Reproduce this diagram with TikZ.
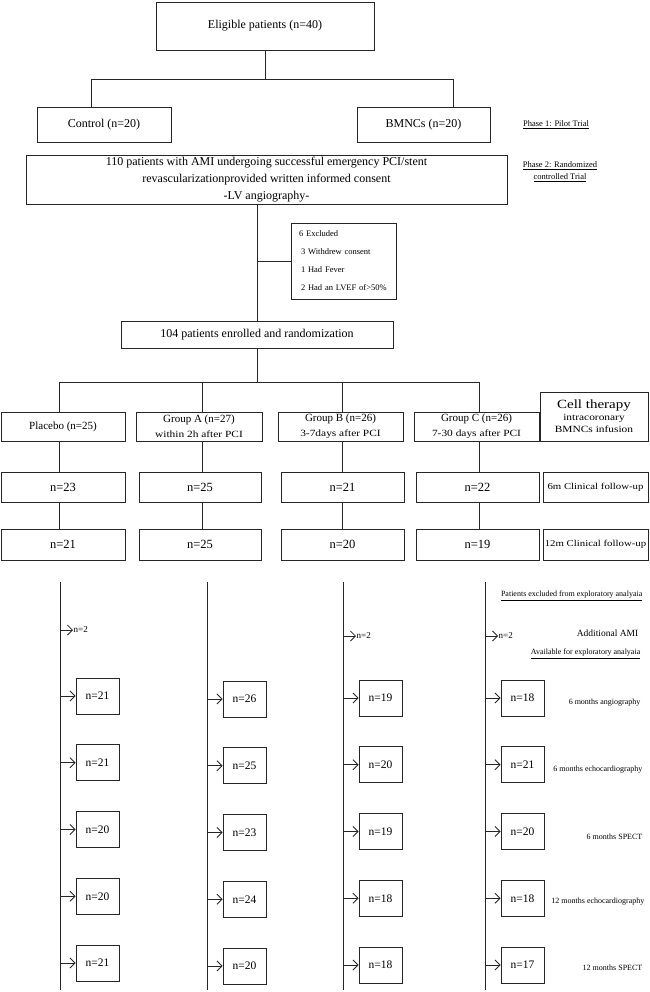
\documentclass[tikz,border=0pt]{standalone}
\usepackage{fontspec}
\setmainfont{Liberation Serif}
\newfontfamily\widefont[FakeStretch=1.2]{Liberation Serif}
\usetikzlibrary{arrows.meta}
\colorlet{linegray}{black!85}
\tikzstyle{box}=[draw=linegray,line width=0.9pt,inner sep=1pt,align=center]
\tikzstyle{nbox}=[box,minimum width=43,minimum height=36,font=\fontsize{11.5}{13}\selectfont]
\tikzstyle{lbl}=[inner sep=0.5pt,align=center,font=\fontsize{8}{10}\selectfont]
\tikzstyle{conn}=[draw=linegray,line width=0.85pt]
\tikzstyle{myarr}=[conn,-{Straight Barb[length=5,width=10]}]
\newcommand\bigtxt{\fontsize{12}{14}\selectfont}
\newcommand\widetxt{\widefont\fontsize{9.5}{12}\selectfont}

\begin{document}
\begin{tikzpicture}[x=1pt,y=-1pt]
	\useasboundingbox (0,0) rectangle (649,992);
	
	% PHASE 1
	\node[box,minimum width=218,minimum height=48,font=\bigtxt] (elig) at (265,26) {Eligible patients (n=40)};
	\node[box,minimum width=134,minimum height=35,font=\bigtxt] (ctrl) at (104,124.5) {Control (n=20)};
	\node[box,minimum width=133,minimum height=35,font=\bigtxt] (bmnc) at (423.5,124.5) {BMNCs (n=20)};
	\node[lbl,font=\fontsize{8.5}{10}\selectfont] (ph1) at (556,125) {\underline{Phase 1: Pilot Trial}};
	\coordinate (jL) at (91,79);
	\coordinate (jR) at (453,79);
	\draw[conn] (elig.south) -- (elig.south |- jL);
	\draw[conn] (jL |- ctrl.north) -- (jL) -- (jR) -- (jR |- bmnc.north);
	
	% PHASE 2
	\node[box,minimum width=481,minimum height=49,font=\fontsize{12}{17}\selectfont] (pci) at (266.5,179.5)
	{110 patients with AMI undergoing successful emergency PCI/stent\\revascularizationprovided written informed consent\\-LV angiography-};
	\node[lbl,font=\fontsize{8.5}{12}\selectfont] (ph2) at (560,172) {\underline{Phase 2: Randomized}\\\underline{controlled Trial}};
	\node[box,minimum height=76,text width=97,inner xsep=4,align=left,font=\fontsize{8.5}{18}\selectfont] (excl) at (343.5,261)
	{\hspace*{4pt}6 Excluded\\\hspace*{6pt}3 Withdrew consent\\\hspace*{6pt}1 Had Fever\\\hspace*{6pt}2 Had an LVEF of>50\%};
	\node[box,minimum width=272,minimum height=27,font=\bigtxt] (rand) at (257,334.5) {104 patients enrolled and randomization};
	\draw[conn] (rand.north) -- (rand.north |- pci.south);
	\draw[conn] (excl.west) -- (excl.west -| rand.north);
	
	% GROUPS
	\coordinate (k1) at (59,382);
	\coordinate (k2) at (202,382);
	\coordinate (k3) at (342,382);
	\coordinate (k4) at (479,382);
	\draw[conn] (rand.south) -- (rand.south |- k1);
	\draw[conn] (k1) -- (k4);
	\node[box,minimum width=124,minimum height=29,font=\fontsize{11}{14}\selectfont] (grpP) at (63,426.5) {Placebo (n=25)};
	\node[box,minimum width=126,minimum height=29,font=\fontsize{11}{15}\selectfont] (grpA) at (199,426.5) {Group A (n=27)\\{\widetxt within 2h after PCI}};
	\node[box,minimum width=125,minimum height=29,font=\fontsize{11}{15}\selectfont] (grpB) at (340.5,426.5) {Group B (n=26)\\{\widetxt 3-7days after PCI}};
	\node[box,minimum width=125,minimum height=29,font=\fontsize{11}{15}\selectfont] (grpC) at (476.5,426.5) {Group C (n=26)\\{\widetxt 7-30 days after PCI}};
	\node[box,minimum width=108,minimum height=49,font=\widetxt] (cell) at (594,416.5)
	{{\fontsize{12.5}{14}\selectfont Cell therapy}\\intracoronary\\BMNCs infusion};
	
	% CLINICAL FOLLOW-UP
	\node[box,minimum width=124,minimum height=30,font=\fontsize{12.5}{14}\selectfont] (m6P) at (63,487) {n=23};
	\node[box,minimum width=122,minimum height=30,font=\fontsize{12.5}{14}\selectfont] (m6A) at (200,487) {n=25};
	\node[box,minimum width=123,minimum height=30,font=\fontsize{12.5}{14}\selectfont] (m6B) at (342.5,487) {n=21};
	\node[box,minimum width=123,minimum height=30,font=\fontsize{12.5}{14}\selectfont] (m6C) at (477.5,487) {n=22};
	\node[box,minimum width=105,minimum height=30,font=\widefont\fontsize{9}{11}\selectfont] (m6L) at (595.5,487) {6m Clinical follow-up};
	\node[box,minimum width=124,minimum height=31,font=\fontsize{12.5}{14}\selectfont] (m12P) at (63,544.5) {n=21};
	\node[box,minimum width=122,minimum height=31,font=\fontsize{12.5}{14}\selectfont] (m12A) at (200,544.5) {n=25};
	\node[box,minimum width=123,minimum height=31,font=\fontsize{12.5}{14}\selectfont] (m12B) at (342.5,544.5) {n=20};
	\node[box,minimum width=123,minimum height=31,font=\fontsize{12.5}{14}\selectfont] (m12C) at (477.5,544.5) {n=19};
	\node[box,minimum width=105,minimum height=31,font=\widefont\fontsize{9}{11}\selectfont] (m12L) at (595.5,544.5) {12m Clinical follow-up};
	\foreach \k/\g in {1/P,2/A,3/B,4/C}
	\draw[conn] (k\k) -- (k\k |- grp\g.north) (k\k |- grp\g.south) -- (k\k |- m6\g.north)
	(k\k |- m6\g.south) -- (k\k |- m12\g.north);
	
	% EXPLORATORY ANALYSIS
	\coordinate (v1) at (60,582);
	\coordinate (v2) at (207,582);
	\coordinate (v3) at (343,582);
	\coordinate (v4) at (485,582);
	\coordinate (bot) at (0,990);
	\foreach \c in {1,...,4}
	\draw[conn] (v\c) -- (v\c |- bot);
	\node[lbl,anchor=west,font=\fontsize{9}{10}\selectfont] (ex1) at (73,630) {n=2};
	\node[lbl,anchor=west,font=\fontsize{9}{10}\selectfont] (ex3) at (356,636) {n=2};
	\node[lbl,anchor=west,font=\fontsize{9}{10}\selectfont] (ex4) at (498,636) {n=2};
	\foreach \c in {1,3,4}
	\draw[myarr] (ex\c.west -| v\c) -- (ex\c.west);
	\foreach \c/\x/\dy/\vals in {1/97.5/-2/{21,21,20,20,21},2/244.5/1/{26,25,23,24,20},
		3/380.5/0/{19,20,19,18,18},4/522.5/0/{18,21,20,18,17}}{
		\foreach \v [count=\r] in \vals {
			\pgfmathsetmacro\yy{698+(\r-1)*66.75+\dy}
			\node[nbox] (s\c-\r) at (\x,\yy) {n=\v};
			\draw[myarr] (s\c-\r.west -| v\c) -- (s\c-\r.west);
		}
	}
	
	% LABELS
	\node[lbl,anchor=east] (pexc) at (643,596) {\underline{Patients excluded from exploratory analyaia}};
	\node[lbl,anchor=east,font=\fontsize{9.5}{11}\selectfont] (addami) at (639,633) {Additional AMI};
	\node[lbl,anchor=east] (avail) at (641,654) {\underline{Available for exploratory analyaia}};
	\node[lbl,anchor=east] (lab1) at (641,703) {6 months angiography};
	\node[lbl,anchor=east] (lab2) at (643,770) {6 months echocardiography};
	\node[lbl,anchor=east] (lab3) at (643,837) {6 months SPECT};
	\node[lbl,anchor=east] (lab4) at (645,902) {12 months echocardiography};
	\node[lbl,anchor=east] (lab5) at (643,968) {12 months SPECT};
	
\end{tikzpicture}
\end{document}
